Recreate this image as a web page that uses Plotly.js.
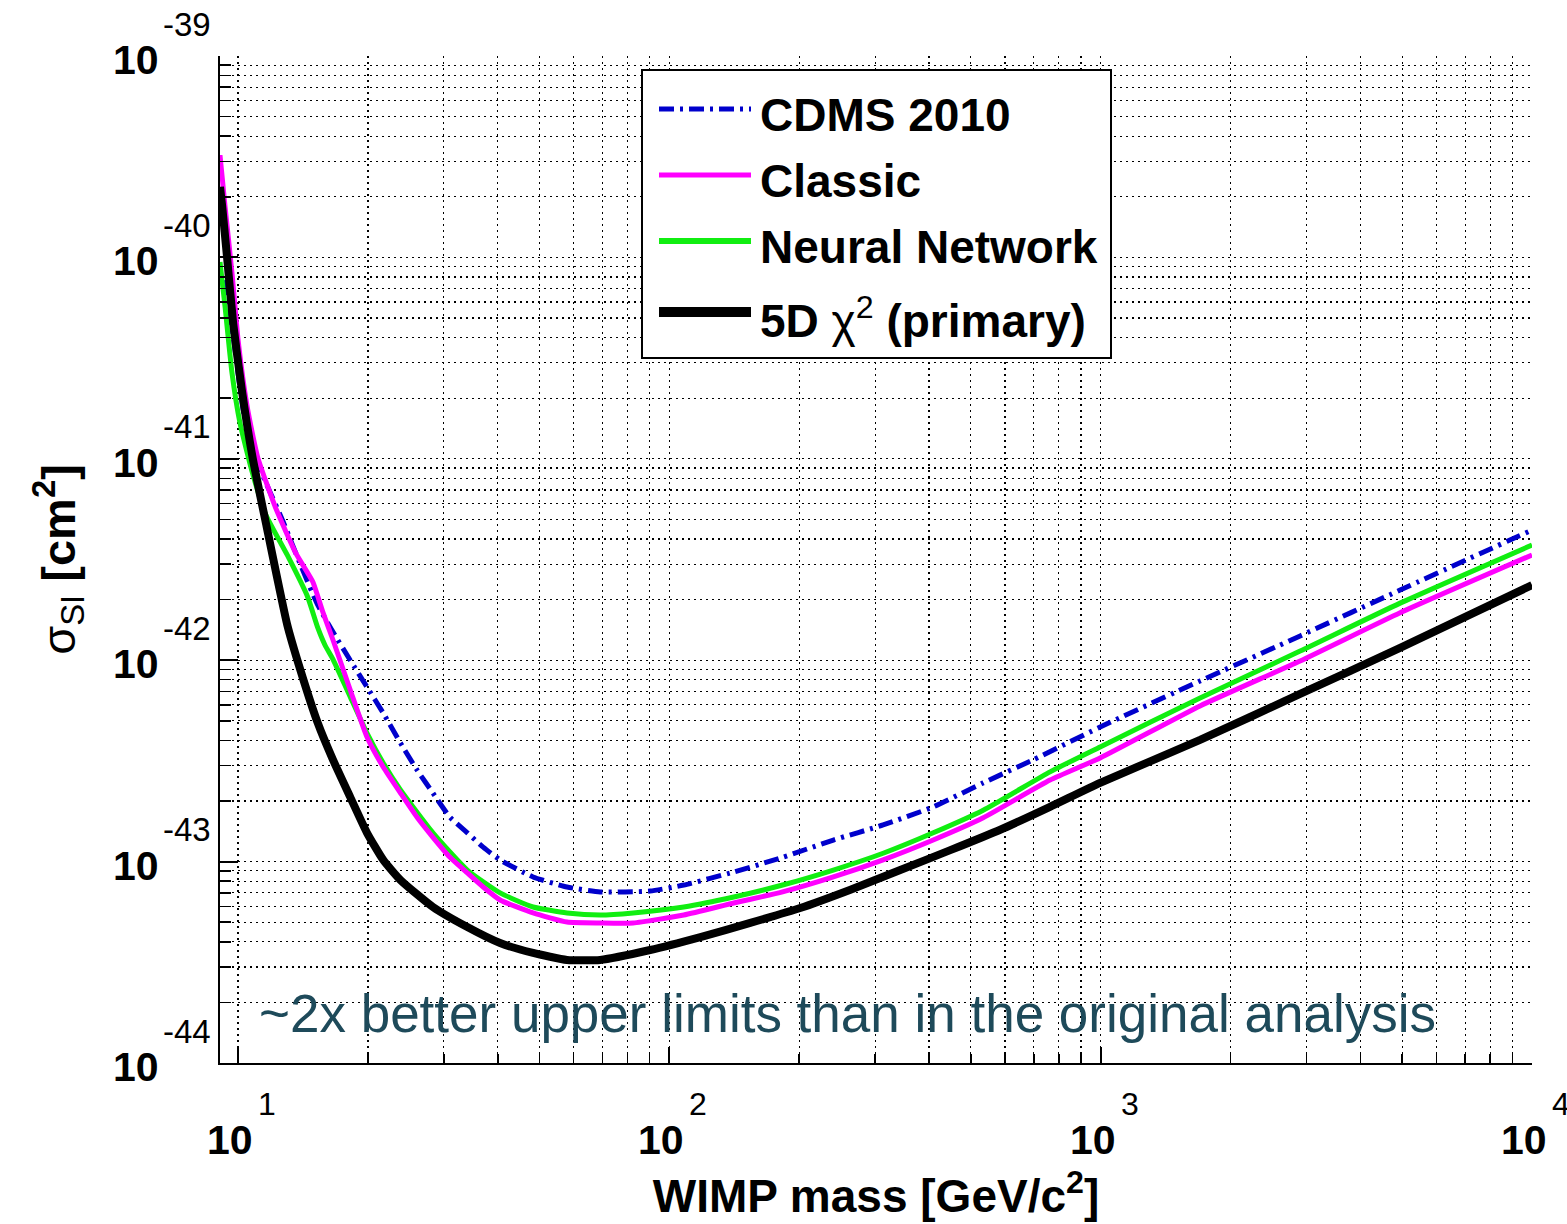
<!DOCTYPE html>
<html>
<head>
<meta charset="utf-8">
<script src="https://cdn.plot.ly/plotly-3.0.1.min.js"></script>
<style>html,body{margin:0;padding:0;background:#fff}</style>
</head>
<body>
<div id="chart" style="width:1567px;height:1224px"></div>
<script>
// WIMP-nucleon spin-independent cross-section upper limits [cm^2] vs WIMP mass [GeV/c^2]

const massCdms = [9.38, 9.84, 10.3, 11.2, 12.7, 13.9, 15.3, 16.6, 18.2, 19.9, 21.7, 23.8, 26.0, 28.3, 31.0, 34.0, 37.0, 40.5, 48.3, 57.9, 69.1, 90.2, 108, 141, 183, 240, 313, 409, 534, 697, 997, 1700, 2900, 4945, 10000];
const sigmaCdms = [7.72e-41, 3.47e-41, 1.71e-41, 9.11e-42, 4.91e-42, 3.04e-42, 1.88e-42, 1.38e-42, 1.00e-42, 7.36e-43, 5.47e-43, 3.88e-43, 2.85e-43, 2.19e-43, 1.66e-43, 1.39e-43, 1.18e-43, 1.02e-43, 8.39e-44, 7.48e-44, 7.07e-44, 7.14e-44, 7.65e-44, 8.88e-44, 1.05e-43, 1.28e-43, 1.52e-43, 1.87e-43, 2.46e-43, 3.20e-43, 4.66e-43, 7.89e-43, 1.32e-42, 2.23e-42, 4.43e-42];

const massClassic = [9.08, 9.33, 9.68, 10.0, 10.5, 11.1, 12.2, 13.6, 14.9, 15.7, 16.6, 18.2, 19.9, 21.7, 23.8, 26.0, 28.3, 31.0, 34.0, 37.0, 40.5, 48.3, 57.9, 69.1, 82.4, 108, 141, 183, 240, 313, 409, 534, 763, 997, 1700, 2900, 4945, 10000];
const sigmaClassic = [3.22e-40, 1.78e-40, 8.37e-41, 3.89e-41, 1.81e-41, 1.02e-41, 5.76e-42, 3.41e-42, 2.45e-42, 1.75e-42, 1.26e-42, 7.11e-43, 4.16e-43, 2.95e-43, 2.19e-43, 1.66e-43, 1.32e-43, 1.05e-43, 8.78e-44, 7.48e-44, 6.45e-44, 5.56e-44, 5.01e-44, 4.96e-44, 4.96e-44, 5.43e-44, 6.23e-44, 7.07e-44, 8.39e-44, 1.02e-43, 1.28e-43, 1.65e-43, 2.54e-43, 3.27e-43, 5.93e-43, 9.91e-43, 1.72e-42, 3.33e-42];

const massNN = [9.08, 9.33, 9.68, 10.1, 10.8, 11.6, 13.0, 14.5, 15.3, 15.9, 16.6, 18.2, 19.9, 21.7, 23.8, 28.3, 34.0, 40.5, 48.3, 57.9, 69.1, 82.4, 108, 141, 183, 240, 313, 409, 534, 763, 997, 1700, 2900, 4945, 10000];
const sigmaNN = [9.49e-41, 5.67e-41, 2.67e-41, 1.51e-41, 8.50e-42, 5.26e-42, 3.33e-42, 2.06e-42, 1.45e-42, 1.19e-42, 1.01e-42, 6.57e-43, 4.35e-43, 3.09e-43, 2.27e-43, 1.39e-43, 9.08e-44, 6.99e-44, 5.95e-44, 5.56e-44, 5.43e-44, 5.56e-44, 5.95e-44, 6.67e-44, 7.65e-44, 9.08e-44, 1.10e-43, 1.39e-43, 1.80e-43, 2.79e-43, 3.71e-43, 6.49e-43, 1.11e-42, 1.92e-42, 3.73e-42];

const massChi2 = [9.08, 9.18, 9.43, 9.74, 10.2, 10.8, 11.6, 13.0, 13.9, 15.3, 16.6, 18.2, 19.9, 21.7, 23.8, 28.3, 34.0, 40.5, 48.3, 57.9, 69.1, 90.2, 118, 154, 201, 262, 343, 448, 585, 763, 997, 1700, 2900, 4945, 10000];
const sigmaChi2 = [2.24e-40, 1.82e-40, 1.00e-40, 4.72e-41, 2.20e-41, 1.02e-41, 4.80e-42, 1.50e-42, 9.15e-43, 4.88e-43, 3.20e-43, 2.09e-43, 1.39e-43, 1.02e-43, 8.10e-44, 5.95e-44, 4.73e-44, 3.94e-44, 3.52e-44, 3.25e-44, 3.25e-44, 3.64e-44, 4.22e-44, 4.96e-44, 5.88e-44, 7.23e-44, 9.08e-44, 1.14e-43, 1.44e-43, 1.87e-43, 2.46e-43, 4.02e-43, 6.80e-43, 1.15e-42, 2.36e-42];

const seriesNames = ['CDMS 2010', 'Classic', 'Neural Network', '5D χ<sup>2</sup> (primary)'];
const legendLabels = ['<b>CDMS 2010</b>', '<b>Classic</b>', '<b>Neural Network</b>', '<b>5D </b>χ<sup>2</sup><b> (primary)</b>'];
const xTickExponents = [1, 2, 3, 4];
const yTickExponents = [-44, -43, -42, -41, -40, -39];
const noteText = '~2x better upper limits than in the original analysis';

// styling
const FONT = 'Liberation Sans, Arial, Helvetica, sans-serif';
const styles = [
  {color: '#0000cc', width: 5, dash: '15px,6px,3px,6px', legendWidth: 5},
  {color: '#ff00ff', width: 5, dash: 'solid', legendWidth: 5},
  {color: '#11ee11', width: 5, dash: 'solid', legendWidth: 6},
  {color: '#000000', width: 8, dash: 'solid', legendWidth: 10}
];
const seriesData = [[massCdms, sigmaCdms], [massClassic, sigmaClassic], [massNN, sigmaNN], [massChi2, sigmaChi2]];
const drawOrder = [0, 2, 1, 3];

const traces = drawOrder.map(i => ({
  type: 'scatter', mode: 'lines', name: seriesNames[i],
  x: seriesData[i][0], y: seriesData[i][1],
  line: {color: styles[i].color, width: styles[i].width, dash: styles[i].dash, shape: 'spline', smoothing: 0.5},
  hoverinfo: 'x+y+name'
}));

// plot-area geometry in pixels
const W = 1567, H = 1224;
const M = {l: 220, r: 35, t: 56, b: 161};
const PW = W - M.l - M.r, PH = H - M.t - M.b;
const px = v => (v - M.l) / PW;           // page x -> paper
const py = v => (H - M.b - v) / PH;        // page y -> paper

const annotations = [];
xTickExponents.forEach(e => {
  annotations.push({xref: 'x', yref: 'paper', x: e, y: 0, xanchor: 'center', yanchor: 'middle',
    xshift: -8, yshift: -77, showarrow: false, text: '<b>10</b>', font: {family: FONT, size: 41, color: '#000'}});
  annotations.push({xref: 'x', yref: 'paper', x: e, y: 0, xanchor: 'left', yanchor: 'middle',
    xshift: 18, yshift: -41, showarrow: false, text: String(e), font: {family: FONT, size: 32, color: '#000'}});
});
yTickExponents.forEach(e => {
  annotations.push({xref: 'paper', yref: 'y', x: 0, y: e, xanchor: 'right', yanchor: 'middle',
    xshift: -59, yshift: -4, showarrow: false, text: '<b>10</b>', font: {family: FONT, size: 41, color: '#000'}});
  annotations.push({xref: 'paper', yref: 'y', x: 0, y: e, xanchor: 'left', yanchor: 'middle',
    xshift: -59, yshift: 32, showarrow: false, text: String(e), font: {family: FONT, size: 33, color: '#000'}});
});
annotations.push({xref: 'paper', yref: 'paper', x: px(257), y: py(1013), xanchor: 'left', yanchor: 'middle',
  showarrow: false, text: noteText, font: {family: FONT, size: 53, color: '#1e4a5a'}});

// legend box drawn by hand so the line samples can be long
const shapes = [{type: 'rect', xref: 'paper', yref: 'paper', x0: px(642), x1: px(1111), y0: py(358), y1: py(70),
  line: {color: '#000', width: 2}, fillcolor: '#fff', layer: 'above'}];
const rowY = [109, 175, 241, 312];
[0, 1, 2, 3].forEach(i => {
  shapes.push({type: 'line', xref: 'paper', yref: 'paper', x0: px(659), x1: px(751), y0: py(rowY[i]), y1: py(rowY[i]),
    line: {color: styles[i].color, width: styles[i].legendWidth, dash: styles[i].dash}, layer: 'above'});
  annotations.push({xref: 'paper', yref: 'paper', x: px(758), y: py(rowY[i] + 6), xanchor: 'left', yanchor: 'middle',
    showarrow: false, text: legendLabels[i], font: {family: FONT, size: 46, color: '#000'}});
});

const gridCommon = {showgrid: true, gridcolor: '#000', gridwidth: 1.2, griddash: '2px,4px'};
const layout = {
  width: W, height: H, margin: M,
  paper_bgcolor: '#fff', plot_bgcolor: '#fff',
  showlegend: false,
  font: {family: FONT, color: '#000'},
  xaxis: Object.assign({
    type: 'log', range: [Math.log10(9.08), 4], dtick: 1, tick0: 0,
    showticklabels: false, ticks: 'inside', ticklen: 16, tickwidth: 2, tickcolor: '#000',
    showline: true, linecolor: '#000', linewidth: 2, mirror: false, zeroline: false,
    minor: Object.assign({dtick: 'D1', ticks: 'inside', ticklen: 9, tickwidth: 1.5, tickcolor: '#000'}, gridCommon),
    title: {text: '<b>WIMP mass [GeV/c<sup>2</sup>]</b>', font: {family: FONT, size: 46, color: '#000'}, standoff: 116}
  }, gridCommon),
  yaxis: Object.assign({
    type: 'log', range: [-44, -39], dtick: 1,
    showticklabels: false, ticks: 'inside', ticklen: 18, tickwidth: 2, tickcolor: '#000',
    showline: true, linecolor: '#000', linewidth: 2, mirror: false, zeroline: false,
    minor: Object.assign({dtick: 'D1', ticks: 'inside', ticklen: 11, tickwidth: 1.5, tickcolor: '#000'}, gridCommon),
    title: {text: 'σ<sub>SI</sub> <b>[cm<sup>2</sup>]</b>', font: {family: FONT, size: 47, color: '#000'}, standoff: 128}
  }, gridCommon),
  shapes: shapes,
  annotations: annotations
};

Plotly.newPlot('chart', traces, layout, {staticPlot: true, displayModeBar: false});
</script>
</body>
</html>
